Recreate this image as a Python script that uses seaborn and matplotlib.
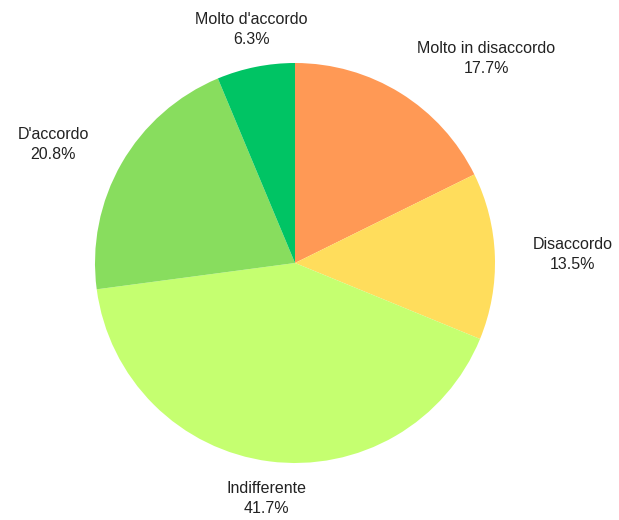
import numpy as np
import matplotlib.pyplot as plt
import seaborn as sns

labels = ["Molto in disaccordo", "Disaccordo", "Indifferente", "D'accordo", "Molto d'accordo"]
shares = [17.7, 13.5, 41.7, 20.8, 6.3]
colors = ["#FF9955", "#FFDD5C", "#C5FF70", "#88DD5E", "#00C464"]

sns.set_style("white")
plt.rcParams['font.family'] = ['Liberation Sans', 'DejaVu Sans']

fig = plt.figure(figsize=(6.19, 5.2), dpi=100)
ax = fig.add_axes([0, 0, 1, 1])

wedges, _ = ax.pie(shares, colors=colors, startangle=90, counterclock=False,
                   radius=1.0, wedgeprops=dict(linewidth=0))

# labels outside the pie, anchored on the edge nearest to the wedge
for w, lab, val in zip(wedges, labels, shares):
    ang = np.deg2rad((w.theta1 + w.theta2) / 2)
    c, s = np.cos(ang), np.sin(ang)
    ha = "left" if c > 0.3 else ("right" if c < -0.3 else "center")
    va = "bottom" if s > 0.6 else ("top" if s < -0.6 else "center")
    r = 1.19 if va == "center" else 1.1
    dx = 0.03 if ha == "left" and va != "center" else 0
    ax.text(r * c + dx, r * s, f"{lab}\n{val:.1f}%", ha=ha, va=va, multialignment="center",
            fontsize=11.5, color="#222222", linespacing=1.4)

# pie centre at (295, 263) px, radius 200 px
ax.set_xlim(-295 / 200, (619 - 295) / 200)
ax.set_ylim(-(520 - 263) / 200, 263 / 200)
ax.set_aspect("auto")
ax.axis("off")

plt.savefig("out.png", dpi=100)
plt.close(fig)
